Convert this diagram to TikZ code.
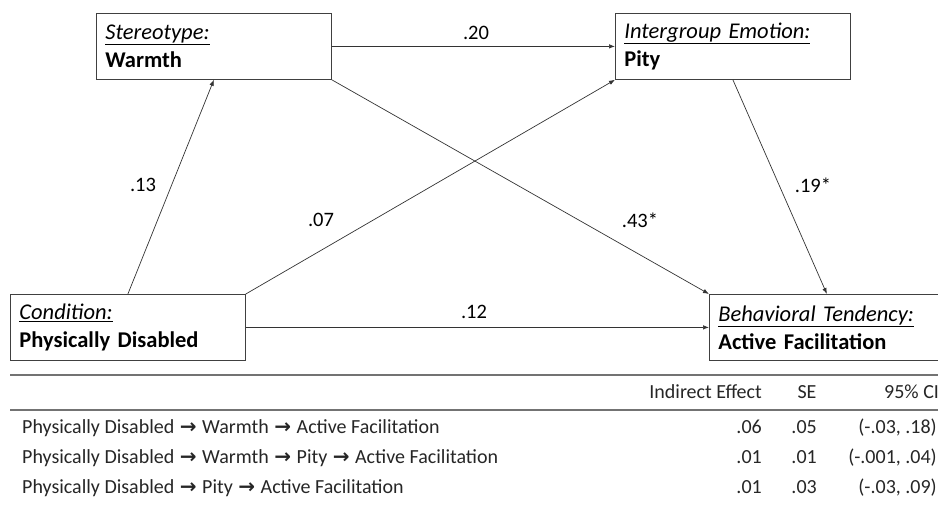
\documentclass[tikz,border=0pt]{standalone}
\usepackage{fontspec}
\setmainfont{Carlito}
\newfontfamily\arrowfont{DejaVu Sans}
\usetikzlibrary{arrows.meta}
\newcommand{\ttl}[1]{\underline{\textit{#1}}}
\newcommand{\arr}{\hspace{1pt}{\arrowfont\bfseries\fontsize{20}{22}\selectfont →}\hspace{1pt}}
\tikzset{
  box/.style={draw=black!75, line width=0.8pt, anchor=north west, minimum width=235pt, minimum height=66pt,
    text width=217pt, align=left, inner sep=0pt, font=\fontsize{22.5}{28}\selectfont},
  conn/.style={draw=black!80, line width=0.7pt, -{Latex[length=6pt,width=4.5pt]}},
  lbl/.style={font=\fontsize{20.5}{22}\selectfont, inner sep=0pt},
  tbl/.style={font=\fontsize{20}{22}\selectfont, inner sep=0pt, text=black!85},
  rule/.style={draw=black!55, line width=1.2pt}
}
\begin{document}
\begin{tikzpicture}[x=1pt, y=-1pt]
\useasboundingbox (0,0) rectangle (938,508);
\clip (0,0) rectangle (938,508);
\node[box] (st) at (96,13) {\ttl{Stereotype:}\\\textbf{Warmth}};
\node[box] (ie) at (615,13) {\ttl{Intergroup Emotion:}\\\textbf{Pity}};
\node[box] (cd) at (10,294) {\ttl{Condition:}\\\textbf{Physically Disabled}};
\node[box] (bt) at (709,294) {\ttl{Behavioral Tendency:}\\\textbf{Active Facilitation}};
\draw[conn] (st.east) -- (ie.west);
\draw[conn] (cd.north) -- (st.south);
\draw[conn] (cd.north east) -- (ie.south west);
\draw[conn] (st.south east) -- (bt.north west);
\draw[conn] (ie.south) -- (bt.north);
\draw[conn] (cd.east) -- (bt.west);
\node[lbl] (l20) at (476,33) {.20};
\node[lbl] (l13) at (143,185) {.13};
\node[lbl] (l07) at (321,220) {.07};
\node[lbl] (l43) at (640,220) {.43*};
\node[lbl] (l19) at (813,185) {.19*};
\node[lbl] (l12) at (474,312) {.12};
\coordinate (r1a) at (10,375); \coordinate (r1b) at (938,375);
\coordinate (r2a) at (10,410); \coordinate (r2b) at (938,410);
\draw[rule] (r1a) -- (r1b);
\draw[rule] (r2a) -- (r2b);
\node[tbl, anchor=base east] (h1) at (762,398) {Indirect Effect};
\node[tbl, anchor=base] (h2) at (807,398) {SE};
\node[tbl, anchor=base west] (h3) at (884,398) {95\% CI};
\node[tbl, anchor=base west] (a1) at (22,433) {Physically Disabled \arr{} Warmth \arr{} Active Facilitation};
\node[tbl, anchor=base west] (a2) at (22,463) {Physically Disabled \arr{} Warmth \arr{} Pity \arr{} Active Facilitation};
\node[tbl, anchor=base west] (a3) at (22,493) {Physically Disabled \arr{} Pity \arr{} Active Facilitation};
\node[tbl, anchor=base east] (b1) at (762,433) {.06};
\node[tbl, anchor=base east] (b2) at (762,463) {.01};
\node[tbl, anchor=base east] (b3) at (762,493) {.01};
\node[tbl, anchor=base east] (c1) at (817,433) {.05};
\node[tbl, anchor=base east] (c2) at (817,463) {.01};
\node[tbl, anchor=base east] (c3) at (817,493) {.03};
\node[tbl, anchor=base east] (d1) at (937,433) {(-.03, .18)};
\node[tbl, anchor=base east] (d2) at (937,463) {(-.001, .04)};
\node[tbl, anchor=base east] (d3) at (937,493) {(-.03, .09)};
\end{tikzpicture}
\end{document}
